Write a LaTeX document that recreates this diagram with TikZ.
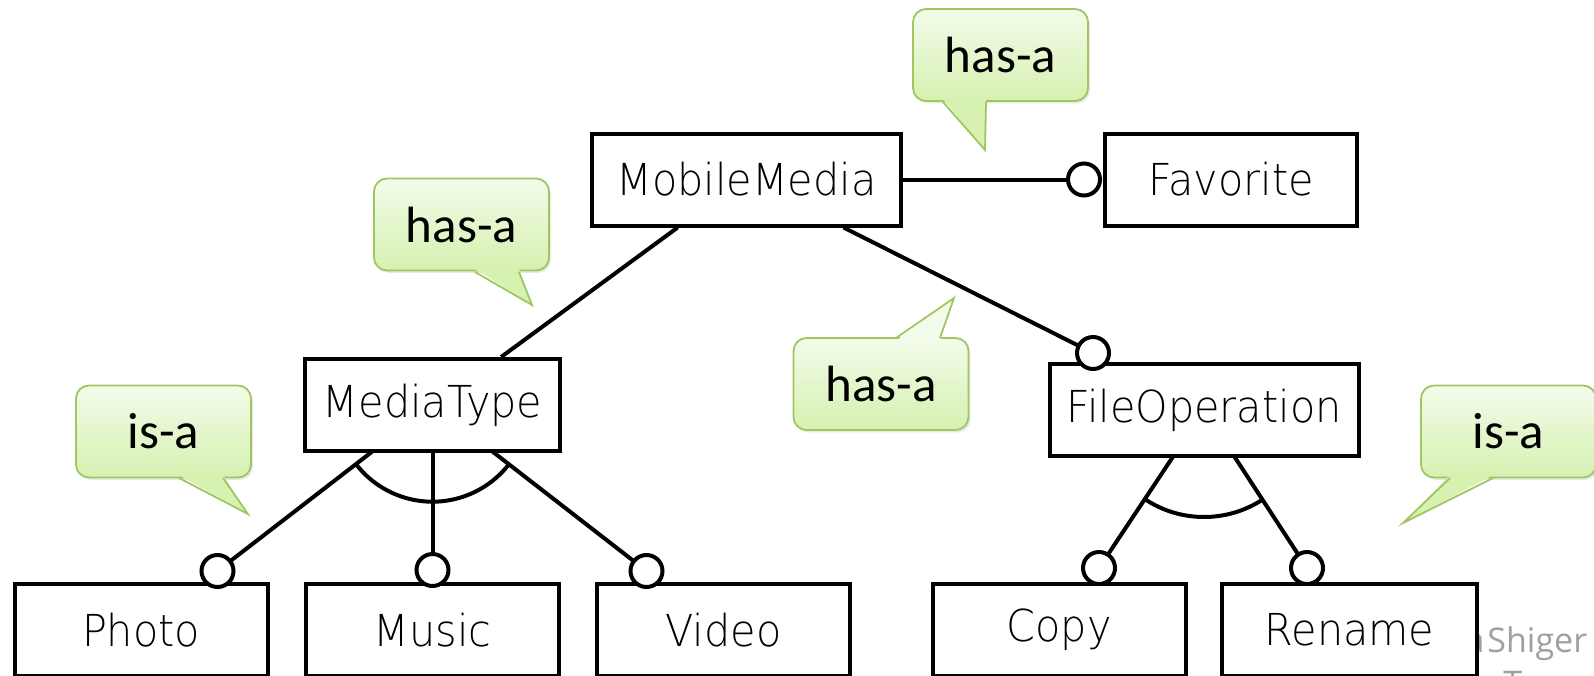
\documentclass[tikz,border=0pt]{standalone}
\usepackage{fontspec}
\usetikzlibrary{calc,shadows}
\newfontfamily\boxfont{DejaVu Sans ExtraLight}[FakeStretch=0.94]
\newfontfamily\notefont{Carlito}
\newfontfamily\markfont{Open Sans}
\definecolor{bubbletop}{RGB}{243,251,234}
\definecolor{bubblebot}{RGB}{214,241,176}
\definecolor{bubbleedge}{RGB}{160,198,98}
\definecolor{markgray}{RGB}{160,160,160}
\pgfdeclarelayer{bg}
\pgfsetlayers{bg,main}
% tail of a speech bubble: {x1}{x2}{border y}{inner y}{tip}{fill}
\newcommand\bubbletail[6]{%
  \fill[#6] (#1,#4) -- (#5) -- (#2,#4) -- cycle;
  \draw[bubbleedge, line width=0.9pt, line join=miter] (#1,#3) -- (#5) -- (#2,#3);
}
\begin{document}
\begin{tikzpicture}[x=0.5pt, y=-0.5pt,
  ent/.style={draw, line width=2pt, fill=white, inner sep=0pt,
    minimum height=46pt, font=\boxfont\fontsize{22pt}{26pt}\selectfont},
  optdot/.style={circle, draw, line width=2pt, fill=white, inner sep=0pt,
    minimum size=16pt},
  link/.style={line width=2pt},
  bubble/.style={draw=bubbleedge, line width=0.9pt, rounded corners=6.5pt,
    top color=bubbletop, bottom color=bubblebot,
    minimum width=87.5pt, minimum height=46pt, inner sep=0pt,
    drop shadow={shadow xshift=1pt, shadow yshift=-1.2pt, opacity=0.18},
    font=\notefont\fontsize{25.5pt}{30pt}\selectfont},
  authormark/.style={inner sep=0pt, text=markgray,
    font=\markfont\fontsize{17pt}{20pt}\selectfont}
]
\useasboundingbox (0,0) rectangle (1594,675);

% faint author mark, partly hidden behind the Rename box
\node[authormark, anchor=base east] (wm0) at (1485,652) {a};
\node[authormark, anchor=base west] (wm1) at (1487,652) {Shiger};
\node[authormark, anchor=north west] (wm2) at (1503,671) {T};

% feature boxes
\node[ent, minimum width=154.5pt] (mm) at (746.5,179.5) {MobileMedia};
\node[ent, minimum width=126pt]   (fav) at (1231,179.5) {Favorite};
\node[ent, minimum width=127.5pt] (mt) at (432.5,405) {MediaType};
\node[ent, minimum width=154.5pt] (fo) at (1204,410) {FileOperation};
\node[ent, minimum width=126.5pt] (photo) at (141,630) {Photo};
\node[ent, minimum width=126.5pt] (music) at (432.5,630) {Music};
\node[ent, minimum width=126.5pt] (video) at (723.5,630) {Video};
\node[ent, minimum width=126.5pt] (copy) at (1059,630) {Copy};
\node[ent, minimum width=127.5pt] (rename) at (1349.5,630) {Rename};

% optional markers
\node[optdot] (cfav) at (1084,179.5) {};
\node[optdot] (cfo) at (1093,353) {};
\node[optdot] (cphoto) at (217.5,571) {};
\node[optdot] (cmusic) at (432.5,570) {};
\node[optdot] (cvideo) at (646.5,571) {};
\node[optdot] (ccopy) at (1099,568) {};
\node[optdot] (crename) at (1307,568) {};

% connectors, kept underneath the boxes
\begin{pgfonlayer}{bg}
  \draw[link] ($(mm.south west)!0.28!(mm.south east)$) -- ($(mt.north west)!0.765!(mt.north east)$);
  \draw[link] ($(mm.south west)!0.81!(mm.south east)$) -- (cfo.center);
  \draw[link] (mm.east) -- (cfav.center);
  \draw[link] (mt.center) -- (cphoto.center);
  \draw[link] (mt.center) -- (cmusic.center);
  \draw[link] (mt.center) -- (cvideo.center);
  \draw[link] (fo.center) -- (ccopy.center);
  \draw[link] (fo.center) -- (crename.center);
  % group arcs
  \draw[link] (mt.center) ++(142.3:96.7) arc[start angle=142.3, end angle=37.8, radius=96.7];
  \draw[link] (fo.center) ++(123.6:107) arc[start angle=123.6, end angle=56.9, radius=107];
\end{pgfonlayer}

% speech bubbles
\coordinate (t1) at (985,150);
\coordinate (t2) at (532,305);
\coordinate (t3) at (954,298);
\coordinate (t4) at (248,514);
\coordinate (t5) at (1403,523);

\node[bubble] (n1) at (1000.5,55) {has-a};
\bubbletail{943}{986}{102}{99}{t1}{bubblebot}
\node[bubble] (n2) at (461.5,224.5) {has-a};
\bubbletail{475}{519}{272}{269}{t2}{bubblebot}
\node[bubble] (n3) at (881,384) {has-a};
\bubbletail{896}{940}{338}{341}{t3}{bubbletop}
\node[bubble] (n4) at (163.5,431.5) {is-a};
\bubbletail{179}{223}{478}{475}{t4}{bubblebot}
\node[bubble] (n5) at (1508.5,431.5) {is-a};
\bubbletail{1450}{1493}{478}{475}{t5}{bubblebot}
\end{tikzpicture}
\end{document}
